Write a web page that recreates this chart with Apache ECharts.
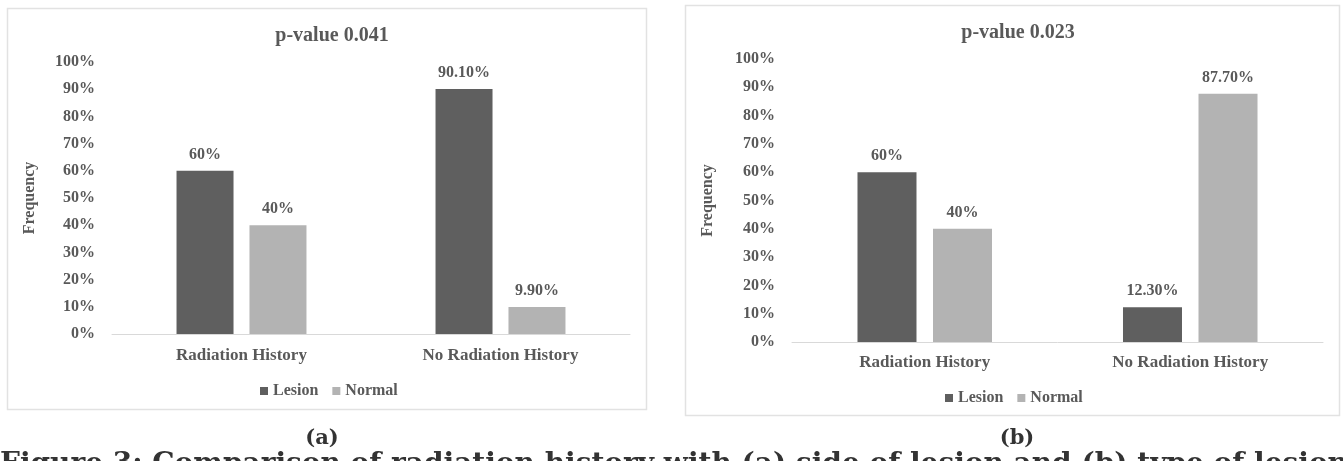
<!DOCTYPE html>
<html>
<head>
<meta charset="utf-8">
<script src="https://cdn.jsdelivr.net/npm/echarts@6/dist/echarts.min.js"></script>
<style>
  html, body { margin: 0; padding: 0; background: #ffffff; }
  #chart { width: 1343px; height: 461px; }
</style>
</head>
<body>
<div id="chart"></div>
<script>
// Categories and frequencies (percent) for the two panels
const categories = ['Radiation History', 'No Radiation History'];
const seriesNames = ['Lesion', 'Normal'];
const lesionA = [60, 90.1];
const normalA = [40, 9.9];
const lesionB = [60, 12.3];
const normalB = [40, 87.7];
const panelTitles = ['p-value 0.041', 'p-value 0.023'];
const panelTags = ['(a)', '(b)'];
const yMin = 0, yMax = 100, yStep = 10;
const captionText = 'Figure 3: Comparison of radiation history with (a) side of lesion and (b) type of lesion';

const SERIF = '"Liberation Serif", "Times New Roman", serif';
const TEXT = '#595959';
const DARK = '#5f5f5f';
const LIGHT = '#b3b3b3';

function pct(v) {
  return Number.isInteger(v) ? v + '%' : v.toFixed(2) + '%';
}

const textBase = { fontFamily: SERIF, fontWeight: 'bold', color: TEXT };

function xAxisFor(i, margin) {
  return {
    type: 'category', gridIndex: i, data: categories,
    axisLine: { lineStyle: { color: '#d9d9d9', width: 1 } },
    axisTick: { show: false },
    axisLabel: Object.assign({ margin: margin, fontSize: 17 }, textBase)
  };
}
function yAxisFor(i, gap) {
  return {
    type: 'value', gridIndex: i, min: yMin, max: yMax, interval: yStep,
    axisLine: { show: false }, axisTick: { show: false }, splitLine: { show: false },
    axisLabel: Object.assign({ margin: 17, fontSize: 16, formatter: '{value}%' }, textBase),
    name: 'Frequency', nameLocation: 'middle', nameRotate: 90, nameGap: gap,
    nameTextStyle: Object.assign({ fontSize: 16 }, textBase)
  };
}
function barSeries(name, data, i, color, width) {
  return {
    type: 'bar', name: name, data: data, xAxisIndex: i, yAxisIndex: i,
    barWidth: width, barGap: '28%',
    itemStyle: { color: color },
    label: Object.assign({ show: true, position: 'top', distance: 8, fontSize: 16,
      formatter: p => pct(p.value) }, textBase)
  };
}

const chart = echarts.init(document.getElementById('chart'), null, { renderer: 'canvas' });
chart.setOption({
  animation: false,
  backgroundColor: '#ffffff',
  title: [
    { text: panelTitles[0], left: 327, top: 21, textAlign: 'center',
      textStyle: Object.assign({ fontSize: 20 }, textBase) },
    { text: panelTitles[1], left: 1013, top: 18, textAlign: 'center',
      textStyle: Object.assign({ fontSize: 20 }, textBase) }
  ],
  legend: [
    { data: seriesNames, left: 255, top: 378, icon: 'rect', itemWidth: 8, itemHeight: 8,
      itemGap: 14, textStyle: Object.assign({ fontSize: 16 }, textBase) },
    { data: seriesNames, left: 940, top: 385, icon: 'rect', itemWidth: 8, itemHeight: 8,
      itemGap: 14, textStyle: Object.assign({ fontSize: 16 }, textBase) }
  ],
  grid: [
    { left: 112, top: 62, width: 518, height: 272 },
    { left: 792, top: 59, width: 531, height: 283 }
  ],
  xAxis: [xAxisFor(0, 13), xAxisFor(1, 12)],
  yAxis: [yAxisFor(0, 74), yAxisFor(1, 76)],
  series: [
    barSeries(seriesNames[0], lesionA, 0, DARK, 57),
    barSeries(seriesNames[1], normalA, 0, LIGHT, 57),
    barSeries(seriesNames[0], lesionB, 1, DARK, 59),
    barSeries(seriesNames[1], normalB, 1, LIGHT, 59)
  ],
  graphic: [
    { type: 'rect', shape: { x: 7.5, y: 8.5, width: 639, height: 401 },
      style: { fill: null, stroke: '#e2e2e2', lineWidth: 1.5 }, silent: true, z: -1 },
    { type: 'rect', shape: { x: 685.5, y: 5.5, width: 654, height: 410 },
      style: { fill: null, stroke: '#e2e2e2', lineWidth: 1.5 }, silent: true, z: -1 },
    { type: 'text', x: 322, y: 439,
      style: { text: panelTags[0], fill: '#333333', font: 'bold 21px "DejaVu Serif", serif',
        textAlign: 'center', textVerticalAlign: 'middle' } },
    { type: 'text', x: 1017, y: 439,
      style: { text: panelTags[1], fill: '#333333', font: 'bold 21px "DejaVu Serif", serif',
        textAlign: 'center', textVerticalAlign: 'middle' } },
    { type: 'text', x: 0, y: 451,
      style: { text: captionText, fill: '#333333', font: 'bold 28px "DejaVu Serif", serif',
        textAlign: 'left', textVerticalAlign: 'top' } }
  ]
});
</script>
</body>
</html>
